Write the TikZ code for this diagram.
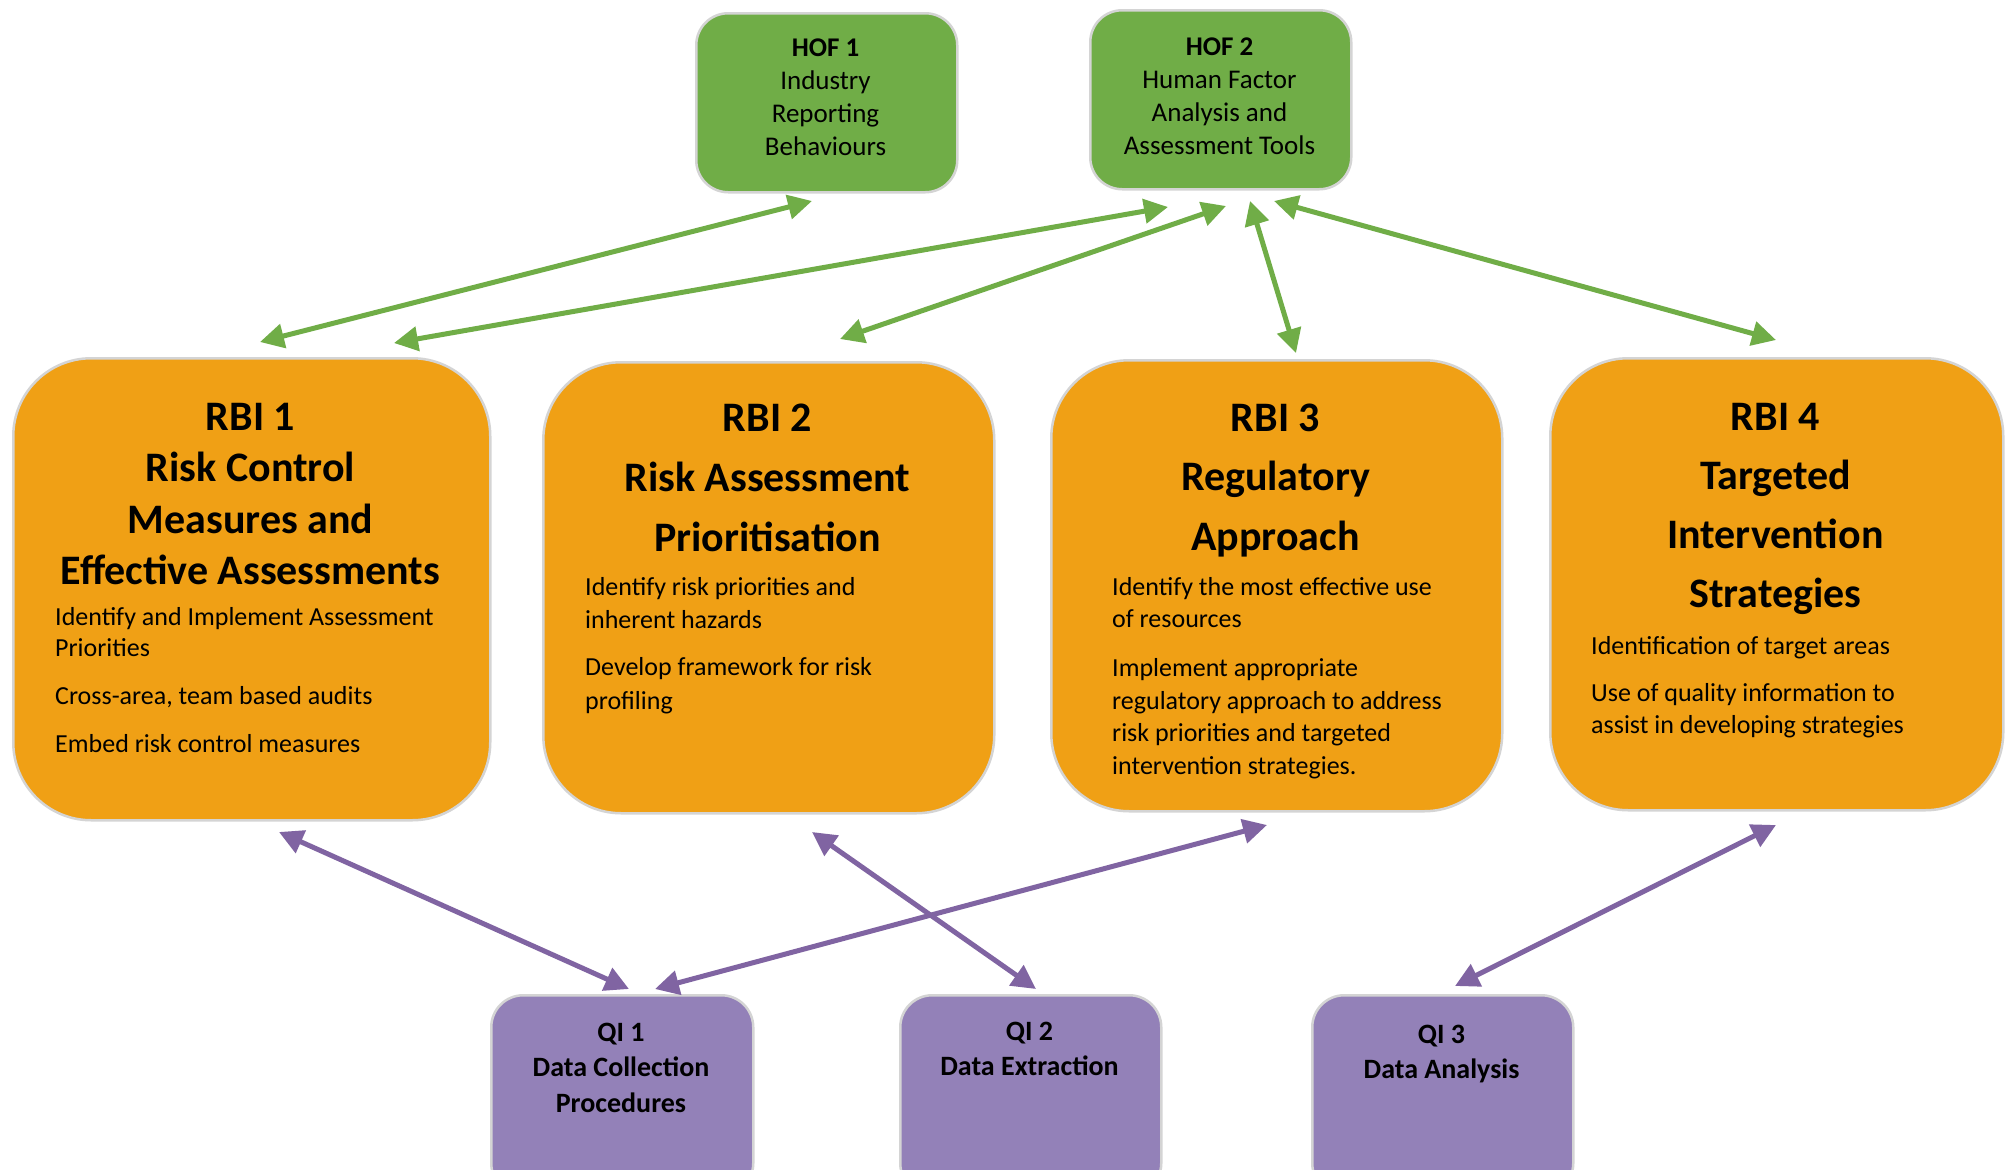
\documentclass[tikz,border=0pt]{standalone}
\usepackage{fontspec}
\setmainfont{Carlito}
\usetikzlibrary{arrows.meta,calc}
\definecolor{hofgreen}{HTML}{70AD47}
\definecolor{rbiorange}{HTML}{F0A015}
\definecolor{qipurple}{HTML}{9381B8}
\definecolor{arrgreen}{HTML}{70AD47}
\definecolor{arrpurple}{HTML}{8064A2}
\definecolor{edgegray}{HTML}{D4D4D4}
\begin{document}
\begin{tikzpicture}[x=1pt,y=-1pt,
  boxbase/.style={draw=edgegray, line width=2.5pt, inner sep=0pt, anchor=north west},
  hofbox/.style={boxbase, fill=hofgreen, rounded corners=32pt},
  rbibox/.style={boxbase, fill=rbiorange, rounded corners=78pt},
  qibox/.style={boxbase, fill=qipurple, rounded corners=32pt},
  smalltext/.style={inner sep=0pt, anchor=base, font=\fontsize{27}{33}\selectfont},
  qitext/.style={inner sep=0pt, anchor=base, font=\fontsize{28}{35.5}\selectfont\bfseries},
  titletext/.style={inner sep=0pt, anchor=base, font=\fontsize{42}{#1}\selectfont\bfseries},
  bodytext/.style={inner sep=0pt, anchor=base west, font=\fontsize{26}{#1}\selectfont},
  garrow/.style={draw=arrgreen, line width=5pt, {Triangle[length=24pt,width=24pt]}-{Triangle[length=24pt,width=24pt]}},
  parrow/.style={draw=arrpurple, line width=5pt, {Triangle[length=24pt,width=24pt]}-{Triangle[length=24pt,width=24pt]}}
]
\clip (0,0) rectangle (2006,1170);
\useasboundingbox (0,0) rectangle (2006,1170);
\fill[white] (0,0) rectangle (2006,1170);

% HOF boxes
\node[hofbox, minimum width=261pt, minimum height=179pt] (hof1) at (695,12) {};
\node[hofbox, minimum width=261pt, minimum height=179pt] (hof2) at (1089,9) {};
\node[smalltext] (hof1t) at (825.5,56) {\parbox[t]{250pt}{\centering\textbf{HOF 1}\\Industry\\Reporting\\Behaviours}};
\node[smalltext] (hof2t) at (1219.5,55) {\parbox[t]{250pt}{\centering\textbf{HOF 2}\\Human Factor\\Analysis and\\Assessment Tools}};

% RBI boxes
\node[rbibox, minimum width=477pt, minimum height=462pt] (rbi1) at (12,357) {};
\node[rbibox, minimum width=451pt, minimum height=451pt] (rbi2) at (542,361) {};
\node[rbibox, minimum width=451pt, minimum height=451pt] (rbi3) at (1050,359) {};
\node[rbibox, minimum width=453pt, minimum height=452pt] (rbi4) at (1549,357) {};

\node[titletext=51.5] (rbi1t) at (250.5,430) {\parbox[t]{470pt}{\centering RBI 1\\Risk Control\\Measures and\\Effective Assessments}};
\node[titletext=60] (rbi2t) at (767.5,431) {\parbox[t]{440pt}{\centering RBI 2\\Risk Assessment\\Prioritisation}};
\node[titletext=59.5] (rbi3t) at (1275.5,431) {\parbox[t]{440pt}{\centering RBI 3\\Regulatory\\Approach}};
\node[titletext=59.3] (rbi4t) at (1775.5,430) {\parbox[t]{440pt}{\centering RBI 4\\Targeted\\Intervention\\Strategies}};

\node[bodytext=31] (rbi1b) at (55,625) {\parbox[t]{440pt}{\raggedright Identify and Implement Assessment\\Priorities\\[17pt]Cross-area, team based audits\\[17pt]Embed risk control measures}};
\node[bodytext=33.5] (rbi2b) at (585,595) {\parbox[t]{400pt}{\raggedright Identify risk priorities and\\inherent hazards\\[13.5pt]Develop framework for risk\\profiling}};
\node[bodytext=32.5] (rbi3b) at (1112,595) {\parbox[t]{420pt}{\raggedright Identify the most effective use\\of resources\\[16.5pt]Implement appropriate\\regulatory approach to address\\risk priorities and targeted\\intervention strategies.}};
\node[bodytext=32] (rbi4b) at (1591,654) {\parbox[t]{420pt}{\raggedright Identification of target areas\\[15pt]Use of quality information to\\assist in developing strategies}};

% QI boxes
\node[qibox, minimum width=262pt, minimum height=200pt] (qi1) at (490,994) {};
\node[qibox, minimum width=261pt, minimum height=200pt] (qi2) at (899,994) {};
\node[qibox, minimum width=261pt, minimum height=200pt] (qi3) at (1311,994) {};
\node[qitext] (qi1t) at (621,1041) {\parbox[t]{250pt}{\centering QI 1\\Data Collection\\Procedures}};
\node[qitext] (qi2t) at (1029.5,1040) {\parbox[t]{250pt}{\centering QI 2\\Data Extraction}};
\node[qitext] (qi3t) at (1441.5,1043) {\parbox[t]{250pt}{\centering QI 3\\Data Analysis}};

% arrow end points
\coordinate (g1a) at (812,201);  \coordinate (g1b) at (260,342);
\coordinate (g2a) at (1168,207); \coordinate (g2b) at (394,343);
\coordinate (g3a) at (1226,206); \coordinate (g3b) at (840,339);
\coordinate (g4a) at (1250,201); \coordinate (g4b) at (1296,353);
\coordinate (g5a) at (1274,201); \coordinate (g5b) at (1776,340);
\coordinate (p1a) at (279,832);  \coordinate (p1b) at (629,989);
\coordinate (p2a) at (1267,825); \coordinate (p2b) at (655,989);
\coordinate (p3a) at (812,832);  \coordinate (p3b) at (1036,989);
\coordinate (p4a) at (1776,825); \coordinate (p4b) at (1455,986);

\draw[garrow] (g1a) -- (g1b);
\draw[garrow] (g2a) -- (g2b);
\draw[garrow] (g3a) -- (g3b);
\draw[garrow] (g4a) -- (g4b);
\draw[garrow] (g5a) -- (g5b);
\draw[parrow] (p1a) -- (p1b);
\draw[parrow] (p2a) -- (p2b);
\draw[parrow] (p3a) -- (p3b);
\draw[parrow] (p4a) -- (p4b);
\end{tikzpicture}
\end{document}
